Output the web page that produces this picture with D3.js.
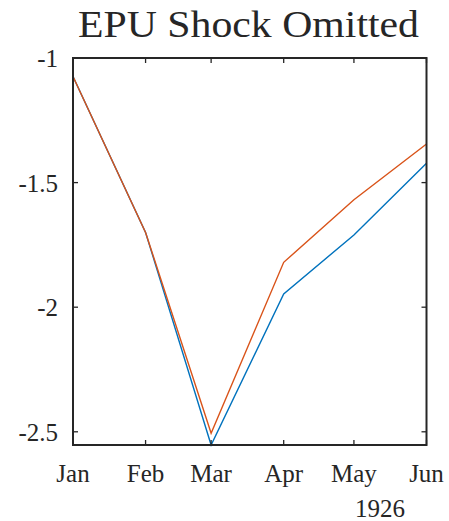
<!DOCTYPE html>
<html>
<head>
<meta charset="utf-8">
<script src="https://cdn.jsdelivr.net/npm/d3@7"></script>
<style>
  body { margin: 0; background: #fff; }
  svg text { font-family: "Liberation Serif", "Times New Roman", serif; fill: #262626; }
</style>
</head>
<body>
<svg id="chart" width="449" height="521"></svg>
<script>
// months plotted (1926)
const months = ["1926-01-01", "1926-02-01", "1926-03-01", "1926-04-01", "1926-05-01", "1926-06-01"];
// blue series
const blueVals = [-1.074, -1.70, -2.553, -1.947, -1.71, -1.422];
// orange series
const orangeVals = [-1.074, -1.70, -2.506, -1.820, -1.569, -1.345];
const yTicks = [-2.5, -2, -1.5, -1];
const yTickLabels = ["-2.5", "-2", "-1.5", "-1"];
const xTickLabels = ["Jan", "Feb", "Mar", "Apr", "May", "Jun"];

const parse = d3.timeParse("%Y-%m-%d");
const dates = months.map(parse);

const svg = d3.select("#chart");
const plotL = 73, plotR = 426.5, plotT = 58, plotB = 445;

// x is real time so the month gaps follow day counts
const x = d3.scaleTime()
    .domain(d3.extent(dates))
    .range([plotL, plotR]);

const y = d3.scaleLinear()
    .domain([-2.553, -1])
    .range([plotB, plotT]);

// title
svg.append("text")
    .attr("x", 78)
    .attr("y", 36.7)
    .attr("textLength", 341)
    .attr("lengthAdjust", "spacingAndGlyphs")
    .style("font-size", "37px")
    .text("EPU Shock Omitted");

// lines
const line = d3.line()
    .x((d, i) => x(dates[i]))
    .y(d => y(d));

[[blueVals, "#0072BD"], [orangeVals, "#D95319"]].forEach(function(s) {
    svg.append("path")
        .datum(s[0])
        .attr("fill", "none")
        .attr("stroke", s[1])
        .attr("stroke-width", 1.4)
        .attr("d", line);
});

// axes, ticks inward, on all four sides
const tick = 5;
const ax = svg.append("g").attr("stroke", "#262626").attr("stroke-width", 1.3);

dates.forEach(function(d) {
    ax.append("line").attr("x1", x(d)).attr("x2", x(d)).attr("y1", plotB).attr("y2", plotB - tick);
    ax.append("line").attr("x1", x(d)).attr("x2", x(d)).attr("y1", plotT).attr("y2", plotT + tick);
});
yTicks.forEach(function(v) {
    ax.append("line").attr("x1", plotL).attr("x2", plotL + tick).attr("y1", y(v)).attr("y2", y(v));
    ax.append("line").attr("x1", plotR).attr("x2", plotR - tick).attr("y1", y(v)).attr("y2", y(v));
});

svg.append("rect")
    .attr("x", plotL).attr("y", plotT)
    .attr("width", plotR - plotL).attr("height", plotB - plotT)
    .attr("fill", "none")
    .attr("stroke", "#262626")
    .attr("stroke-width", 2);

// tick labels
svg.selectAll(".ylab")
    .data(yTicks)
    .enter()
    .append("text")
    .attr("x", plotL - 15)
    .attr("y", d => y(d) + 9)
    .attr("text-anchor", "end")
    .style("font-size", "25px")
    .text((d, i) => yTickLabels[i]);

svg.selectAll(".xlab")
    .data(dates)
    .enter()
    .append("text")
    .attr("x", d => x(d))
    .attr("y", 481.7)
    .attr("text-anchor", "middle")
    .style("font-size", "25px")
    .text((d, i) => xTickLabels[i]);

svg.append("text")
    .attr("x", 380)
    .attr("y", 516.7)
    .attr("text-anchor", "middle")
    .style("font-size", "25px")
    .text("1926");
</script>
</body>
</html>
